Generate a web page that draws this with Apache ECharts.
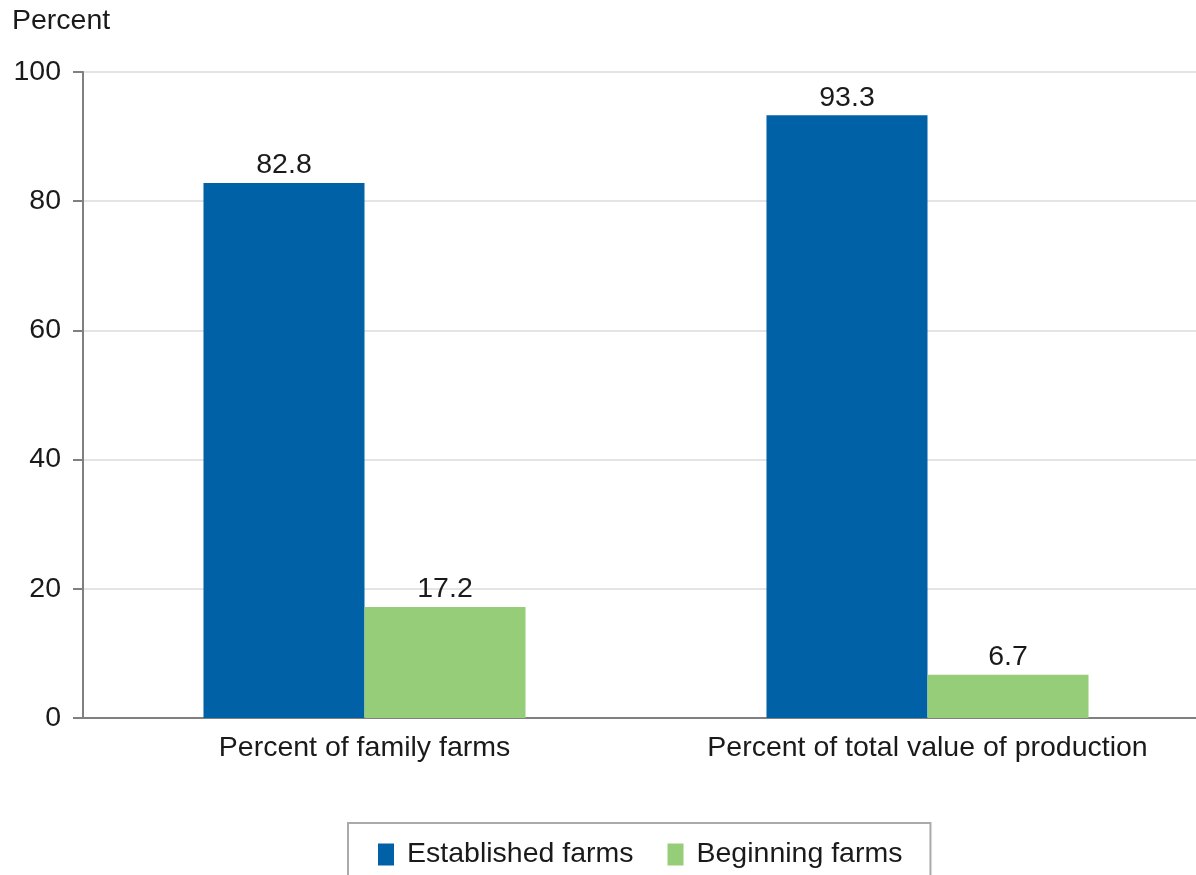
<!DOCTYPE html>
<html>
<head>
<meta charset="utf-8">
<script src="https://cdn.jsdelivr.net/npm/echarts@6/dist/echarts.min.js"></script>
<style>
  html, body { margin: 0; padding: 0; background: #fff; }
  #chart { width: 1196px; height: 875px; }
</style>
</head>
<body>
<div id="chart"></div>
<script>
const categories = ["Percent of family farms", "Percent of total value of production"];
const established = [82.8, 93.3];
const beginning = [17.2, 6.7];
const yTicks = { min: 0, max: 100, interval: 20 };

const chart = echarts.init(document.getElementById("chart"));
const font = "'Liberation Sans', Arial, sans-serif";
const fs = 28.5;

const labelStyle = {
  show: true,
  position: "top",
  distance: 3,
  color: "#1a1a1a",
  fontSize: fs,
  fontFamily: font,
  formatter: (p) => p.value.toFixed(1),
};

const option = {
  animation: false,
  textStyle: { fontFamily: font },
  graphic: [
    {
      type: "text",
      left: 12,
      top: 7,
      style: { text: "Percent", fontSize: fs, fontFamily: font, fill: "#1a1a1a" },
    },
  ],
  // the plot runs past the right edge of the picture (cropped)
  grid: {
    left: 83,
    width: 1126,
    top: 72,
    bottom: 157,
    containLabel: false,
    outerBoundsMode: "none",
  },
  legend: {
    top: 823,
    left: 348,
    itemWidth: 16,
    itemHeight: 22,
    itemGap: 34,
    icon: "rect",
    padding: [17, 28, 20, 30],
    borderColor: "#aaa",
    borderWidth: 2,
    textStyle: { fontSize: fs, color: "#1a1a1a", fontFamily: font, padding: [0, 0, 0, 8] },
    data: ["Established farms", "Beginning farms"],
  },
  xAxis: {
    type: "category",
    data: categories,
    axisLine: { lineStyle: { color: "#808080", width: 2 } },
    axisTick: { show: false },
    axisLabel: { fontSize: fs, color: "#1a1a1a", margin: 16, fontFamily: font, interval: 0 },
  },
  yAxis: {
    type: "value",
    min: yTicks.min,
    max: yTicks.max,
    interval: yTicks.interval,
    axisLine: { show: true, lineStyle: { color: "#808080", width: 2 } },
    axisTick: { show: true, length: 10, lineStyle: { color: "#808080", width: 2 } },
    axisLabel: { fontSize: fs, color: "#1a1a1a", margin: 22, fontFamily: font },
    splitLine: { lineStyle: { color: "#e4e4e4", width: 2 } },
  },
  series: [
    {
      name: "Established farms",
      type: "bar",
      data: established,
      barGap: "0%",
      barCategoryGap: "42.8%",
      itemStyle: { color: "#0061a7" },
      label: labelStyle,
    },
    {
      name: "Beginning farms",
      type: "bar",
      data: beginning,
      itemStyle: { color: "#96cd78" },
      label: labelStyle,
    },
  ],
};

chart.setOption(option);
</script>
</body>
</html>
